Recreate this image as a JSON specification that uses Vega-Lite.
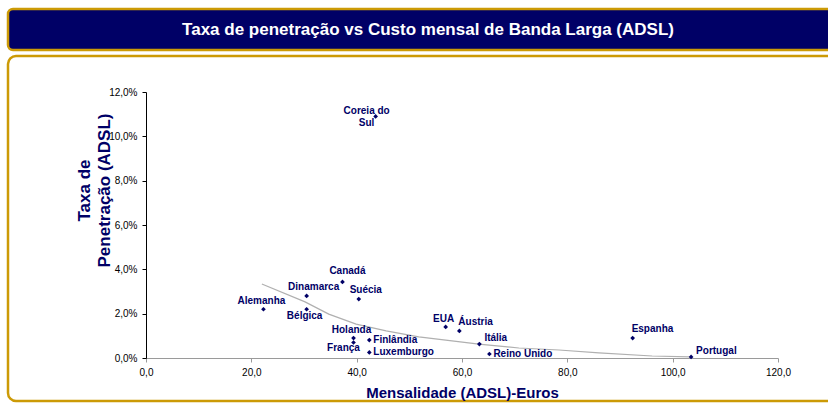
{
  "$schema": "https://vega.github.io/schema/vega-lite/v6.json",
  "background": "white",
  "padding": {"left": 6, "top": 7, "right": 0, "bottom": 0},
  "spacing": 2,
  "config": {"font": "Liberation Sans"},
  "datasets": {
    "pts": [
      {"pais": "Coreia do Sul", "x": 43.6, "y": 10.9},
      {"pais": "Canadá", "x": 37.3, "y": 3.43},
      {"pais": "Dinamarca", "x": 30.5, "y": 2.8},
      {"pais": "Suécia", "x": 40.4, "y": 2.66},
      {"pais": "Alemanha", "x": 22.3, "y": 2.2},
      {"pais": "Bélgica", "x": 30.5, "y": 2.2},
      {"pais": "Holanda", "x": 39.4, "y": 0.9},
      {"pais": "França", "x": 39.4, "y": 0.7},
      {"pais": "Finlândia", "x": 42.4, "y": 0.81},
      {"pais": "Luxemburgo", "x": 42.4, "y": 0.25},
      {"pais": "EUA", "x": 56.9, "y": 1.4},
      {"pais": "Áustria", "x": 59.5, "y": 1.22},
      {"pais": "Itália", "x": 63.3, "y": 0.63},
      {"pais": "Reino Unido", "x": 65.2, "y": 0.18},
      {"pais": "Espanha", "x": 92.4, "y": 0.9},
      {"pais": "Portugal", "x": 103.5, "y": 0.05}
    ],
    "trend": [
      {"x": 22.0, "y": 3.34},
      {"x": 30.2, "y": 2.53},
      {"x": 34.7, "y": 1.98},
      {"x": 39.9, "y": 1.53},
      {"x": 45.6, "y": 1.22},
      {"x": 51.8, "y": 0.95},
      {"x": 58.1, "y": 0.77},
      {"x": 63.2, "y": 0.63},
      {"x": 70.8, "y": 0.45},
      {"x": 78.4, "y": 0.36},
      {"x": 86.0, "y": 0.23},
      {"x": 96.1, "y": 0.09},
      {"x": 103.3, "y": 0.05}
    ]
  },
  "vconcat": [
    {
      "width": 830,
      "height": 41,
      "view": {"fill": "#000066", "stroke": "#CC9A06", "strokeWidth": 2.5, "cornerRadius": 5},
      "data": {"values": [{"titulo": "Taxa de penetração vs Custo mensal de Banda Larga (ADSL)"}]},
      "mark": {"type": "text", "color": "white", "fontSize": 17, "fontWeight": "bold", "align": "center", "baseline": "middle", "dx": 5},
      "encoding": {"text": {"field": "titulo"}}
    },
    {
      "width": 830,
      "height": 345,
      "view": {"fill": "white", "stroke": "#CC9A06", "strokeWidth": 2.5, "cornerRadius": 8},
      "data": {"name": "pts"},
      "encoding": {
        "x": {
          "field": "x", "type": "quantitative",
          "scale": {"domain": [0, 120], "range": [138, 770], "nice": false, "zero": false},
          "axis": {
            "values": [0, 20, 40, 60, 80, 100, 120],
            "labelExpr": "replace(format(datum.value, '.1f'), '.', ',')",
            "grid": false, "offset": -43, "labelFlush": false, "labelOverlap": false,
            "domainColor": "#9a9a9a", "tickColor": "#9a9a9a", "tickSize": 4,
            "labelFontSize": 10, "labelColor": "black", "labelPadding": 5,
            "title": "Mensalidade (ADSL)-Euros", "titleFontSize": 15, "titleColor": "#000066",
            "titleFontWeight": "bold", "titleY": 34, "titleBaseline": "middle"
          }
        },
        "y": {
          "field": "y", "type": "quantitative",
          "scale": {"domain": [0, 12], "range": [302, 36], "nice": false, "zero": false},
          "axis": {
            "values": [0, 2, 4, 6, 8, 10, 12],
            "labelExpr": "replace(format(datum.value, '.1f'), '.', ',') + '%'",
            "grid": false, "offset": -138, "labelFlush": false, "labelOverlap": false,
            "domainColor": "black", "tickColor": "black", "tickSize": 4,
            "labelFontSize": 10, "labelColor": "black", "labelPadding": 5,
            "title": ["Taxa de", "Penetração (ADSL)"], "titleFontSize": 17, "titleColor": "#000066",
            "titleFontWeight": "bold", "titleAngle": -90, "titleX": -62, "titleY": 134,
            "titleAlign": "center", "titleBaseline": "middle", "titleLineHeight": 20
          }
        }
      },
      "layer": [
        {
          "data": {"name": "trend"},
          "mark": {"type": "line", "color": "#B0B0B0", "strokeWidth": 1.2},
          "encoding": {}
        },
        {
          "mark": {"type": "point", "shape": "diamond", "filled": true, "size": 22, "color": "#000066", "opacity": 1}
        },
        {
          "transform": [{"filter": {"field": "pais", "equal": "Coreia do Sul"}}],
          "mark": {"type": "text", "fontWeight": "bold", "fontSize": 10, "color": "#000066", "align": "center", "baseline": "middle", "dx": -9, "dy": -5, "lineHeight": 12},
          "encoding": {"text": {"value": ["Coreia do", "Sul"]}}
        },
        {
          "transform": [{"filter": {"field": "pais", "equal": "Canadá"}}],
          "mark": {"type": "text", "fontWeight": "bold", "fontSize": 10, "color": "#000066", "align": "center", "baseline": "middle", "dx": 5, "dy": -11},
          "encoding": {"text": {"field": "pais"}}
        },
        {
          "transform": [{"filter": {"field": "pais", "oneOf": ["Dinamarca", "Suécia"]}}],
          "mark": {"type": "text", "fontWeight": "bold", "fontSize": 10, "color": "#000066", "align": "center", "baseline": "middle", "dx": 7, "dy": -9},
          "encoding": {"text": {"field": "pais"}}
        },
        {
          "transform": [{"filter": {"field": "pais", "oneOf": ["Alemanha", "Holanda", "EUA"]}}],
          "mark": {"type": "text", "fontWeight": "bold", "fontSize": 10, "color": "#000066", "align": "center", "baseline": "middle", "dx": -2, "dy": -8},
          "encoding": {"text": {"field": "pais"}}
        },
        {
          "transform": [{"filter": {"field": "pais", "equal": "Bélgica"}}],
          "mark": {"type": "text", "fontWeight": "bold", "fontSize": 10, "color": "#000066", "align": "center", "baseline": "middle", "dx": -2, "dy": 7},
          "encoding": {"text": {"field": "pais"}}
        },
        {
          "transform": [{"filter": {"field": "pais", "equal": "França"}}],
          "mark": {"type": "text", "fontWeight": "bold", "fontSize": 10, "color": "#000066", "align": "center", "baseline": "middle", "dx": -10, "dy": 6},
          "encoding": {"text": {"field": "pais"}}
        },
        {
          "transform": [{"filter": {"field": "pais", "oneOf": ["Finlândia", "Luxemburgo", "Reino Unido"]}}],
          "mark": {"type": "text", "fontWeight": "bold", "fontSize": 10, "color": "#000066", "align": "left", "baseline": "middle", "dx": 4, "dy": 0},
          "encoding": {"text": {"field": "pais"}}
        },
        {
          "transform": [{"filter": {"field": "pais", "oneOf": ["Itália", "Portugal"]}}],
          "mark": {"type": "text", "fontWeight": "bold", "fontSize": 10, "color": "#000066", "align": "left", "baseline": "middle", "dx": 5, "dy": -6},
          "encoding": {"text": {"field": "pais"}}
        },
        {
          "transform": [{"filter": {"field": "pais", "oneOf": ["Espanha", "Áustria"]}}],
          "mark": {"type": "text", "fontWeight": "bold", "fontSize": 10, "color": "#000066", "align": "left", "baseline": "middle", "dx": -1, "dy": -9},
          "encoding": {"text": {"field": "pais"}}
        }
      ]
    }
  ]
}
